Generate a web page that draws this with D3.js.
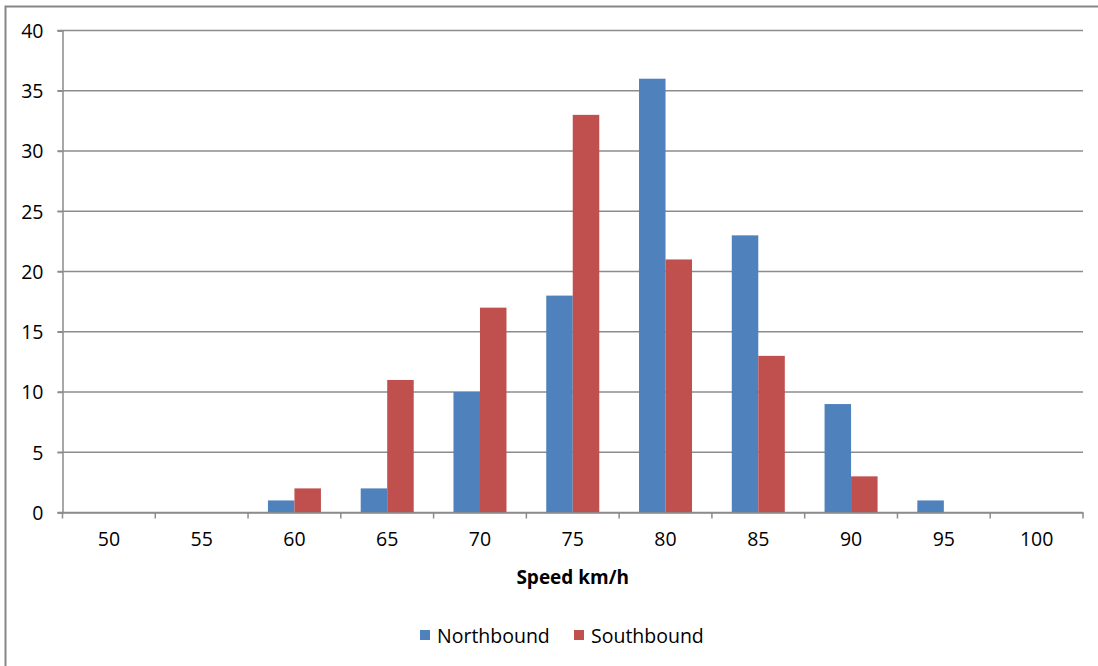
<!DOCTYPE html>
<html><head><meta charset="utf-8">
<script src="https://cdn.jsdelivr.net/npm/d3@7"></script>
<style>
body{margin:0;background:#fff;}
svg text{font-family:"Open Sans","Noto Sans",sans-serif;fill:#000;}
</style></head>
<body>
<svg id="c" width="1098" height="666"></svg>
<script>
const categories = ["50","55","60","65","70","75","80","85","90","95","100"];
const northbound = [0,0,1,2,10,18,36,23,9,1,0];
const southbound = [0,0,2,11,17,33,21,13,3,0,0];
const seriesNames = ["Northbound","Southbound"];
const seriesColors = ["#4F81BD","#C0504D"];
const yTicks = [0,5,10,15,20,25,30,35,40];

const FS = "19.5px";
const svg = d3.select("#c");
svg.append("rect").attr("x",5.5).attr("y",6.5).attr("width",1100).attr("height",670)
  .attr("fill","#fff").attr("stroke","#868686").attr("stroke-width",2);

const L=62.5,R=1083,T=30.5,B=512.5;
const x = d3.scaleBand().domain(categories).range([L,R]).paddingInner(0).paddingOuter(0);
const y = d3.scaleLinear().domain([0,40]).range([B,T]);
const inner = d3.scaleBand().domain(seriesNames).range([0,x.bandwidth()]).paddingInner(0).paddingOuter(0.75);

// gridlines
svg.append("g").selectAll("line").data(yTicks).join("line")
  .attr("x1",L-5).attr("x2",R).attr("y1",d=>y(d)).attr("y2",d=>y(d))
  .attr("stroke","#8c8c8c").attr("stroke-width",1.5);

// bars
const data = [northbound, southbound];
data.forEach((vals,si)=>{
  svg.append("g").selectAll("rect").data(vals).join("rect")
    .attr("x",(d,i)=>x(categories[i])+inner(seriesNames[si]))
    .attr("width",inner.bandwidth())
    .attr("y",d=>y(d)).attr("height",d=>B-y(d))
    .attr("fill",seriesColors[si]);
});

// y axis
const yAxis = svg.append("g").attr("transform",`translate(${L},0)`)
  .call(d3.axisLeft(y).tickValues(yTicks).tickSize(5).tickPadding(14));
yAxis.attr("font-family",null).attr("font-size",null);
yAxis.select(".domain").attr("stroke","#8c8c8c").attr("stroke-width",1.5);
yAxis.selectAll(".tick line").attr("stroke","#8c8c8c").attr("stroke-width",1.5);
yAxis.selectAll("text").style("font-size",FS).attr("dy","0.35em");

// x axis
const xAxis = svg.append("g").attr("transform",`translate(0,${B})`)
  .call(d3.axisBottom(x).tickSize(0).tickPadding(20));
xAxis.attr("font-family",null).attr("font-size",null);
xAxis.select(".domain").attr("stroke","#8c8c8c").attr("stroke-width",1.5);
xAxis.selectAll("text").style("font-size",FS);
// boundary ticks
const bounds = categories.map(c=>x(c)).concat([R]);
svg.append("g").selectAll("line").data(bounds).join("line")
  .attr("x1",d=>d).attr("x2",d=>d).attr("y1",B).attr("y2",B+6)
  .attr("stroke","#8c8c8c").attr("stroke-width",1.5);

svg.append("text").attr("x",(L+R)/2).attr("y",584).attr("text-anchor","middle")
  .style("font-size","19px").style("font-weight","bold").text("Speed km/h");

// legend
const leg = svg.append("g");
const legX = [420,574];
seriesNames.forEach((n,i)=>{
  leg.append("rect").attr("x",legX[i]).attr("y",630).attr("width",10).attr("height",10).attr("fill",seriesColors[i]);
  leg.append("text").attr("x",legX[i]+17).attr("y",643).style("font-size",FS).text(n);
});
</script>
</body></html>
